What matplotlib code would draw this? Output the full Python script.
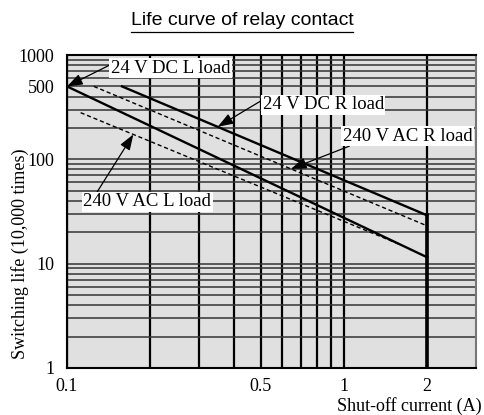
import numpy as np
import matplotlib
matplotlib.use("Agg")
import matplotlib.pyplot as plt
from matplotlib.ticker import FixedLocator, FixedFormatter
from matplotlib.lines import Line2D

# switching life (x10,000 operations) against shut-off current (A)
dc_l_current = [0.1, 2.0]
dc_l_life = [500, 11.5]
dc_r_current = [0.158, 2.0]
dc_r_life = [500, 29]
ac_r_current = [0.125, 2.0]
ac_r_life = [500, 23]
ac_l_current = [0.112, 1.6]
ac_l_life = [280, 15.2]

x_major = [0.1, 0.5, 1, 2]
x_minor = [0.2, 0.3, 0.4, 0.6, 0.7, 0.8, 0.9]
y_major = [1, 10, 100, 500, 1000]
y_minor = [2, 3, 4, 5, 6, 7, 8, 9, 20, 30, 40, 50, 60, 70, 80, 90,
           200, 300, 400, 600, 700, 800, 900]

serif = "Liberation Serif"


def life_at(xs, ys, x):
    """log-log interpolation along a straight life line"""
    return 10 ** np.interp(np.log10(x), np.log10(xs), np.log10(ys))


fig = plt.figure(figsize=(4.84, 4.15), dpi=100)
ax = fig.add_axes([67 / 484, 1 - 368 / 415, 409 / 484, 313 / 415])
ax.set_facecolor("#e0e0e0")
ax.set_xscale("log")
ax.set_yscale("log")
ax.set_xlim(0.1, 3)
ax.set_ylim(1, 1000)

ax.xaxis.set_major_locator(FixedLocator(x_major))
ax.xaxis.set_major_formatter(FixedFormatter([f"{v:g}" for v in x_major]))
ax.xaxis.set_minor_locator(FixedLocator(x_minor))
ax.xaxis.set_minor_formatter(FixedFormatter([]))
ax.yaxis.set_major_locator(FixedLocator(y_major))
ax.yaxis.set_major_formatter(FixedFormatter([f"{v:g}" for v in y_major]))
ax.yaxis.set_minor_locator(FixedLocator(y_minor))
ax.yaxis.set_minor_formatter(FixedFormatter([]))
ax.tick_params(which="both", length=0)
ax.tick_params(axis="x", pad=7, labelsize=13)
ax.tick_params(axis="y", pad=9, labelsize=13)
for lab in ax.get_xticklabels() + ax.get_yticklabels():
    lab.set_fontfamily(serif)

ax.set_axisbelow(True)
ax.grid(True, which="both", axis="x", color="black", lw=1.6)
ax.grid(True, which="both", axis="y", color="#333333", lw=1.1)
for side in ["left", "bottom", "top"]:
    ax.spines[side].set_color("black")
    ax.spines[side].set_linewidth(1.5)
ax.spines["right"].set_color("#777777")
ax.spines["right"].set_linewidth(1.5)

ax.plot(dc_l_current, dc_l_life, color="black", lw=1.7)
ax.plot(dc_r_current, dc_r_life, color="black", lw=1.7)
ax.plot(ac_r_current, ac_r_life, color="black", lw=1.0, ls=(0, (3, 2)))
ax.plot(ac_l_current, ac_l_life, color="black", lw=1.0, ls=(0, (3, 2)))
# cut-off at the rated current
ax.plot([dc_r_current[-1], dc_r_current[-1]], [1, dc_r_life[-1]], color="black", lw=2.6)

box = dict(boxstyle="square,pad=0.08", fc="white", ec="none")


def label(text, tip_x, xs, ys, text_xy, relpos):
    ax.annotate(text, xy=(tip_x, life_at(xs, ys, tip_x)), xytext=text_xy,
                fontsize=13.5, family=serif, ha="center", va="center",
                bbox=box, zorder=5,
                arrowprops=dict(arrowstyle="-|>,head_length=0.7,head_width=0.25",
                                color="black", lw=0.9, relpos=relpos,
                                shrinkA=0, shrinkB=0))


label("24 V DC L load", 0.1, dc_l_current, dc_l_life, (0.236, 750), (0.0, 0.7))
label("24 V DC R load", 0.35, dc_r_current, dc_r_life, (0.842, 332), (0.0, 0.8))
label("240 V AC R load", 0.644, ac_r_current, ac_r_life, (1.70, 167), (0.08, 0.0))
label("240 V AC L load", 0.1736, ac_l_current, ac_l_life, (0.195, 39), (0.1, 1.0))

fig.text(482 / 484, 1 - 406 / 415, "Shut-off current (A)", family=serif,
         fontsize=13, ha="right", va="center")
fig.text(20 / 484, 1 - 254 / 415, "Switching life (10,000 times)", family=serif,
         fontsize=13, rotation=90, ha="center", va="center")

title = fig.text(0.5, 1 - 25 / 415, "Life curve of relay contact",
                 family="Liberation Sans", fontsize=14, ha="center", va="baseline")
renderer = fig.canvas.get_renderer()
tb = title.get_window_extent(renderer).transformed(fig.transFigure.inverted())
uy = 1 - 32 / 415
fig.add_artist(Line2D([tb.x0, tb.x1], [uy, uy], color="black", lw=0.9,
                      transform=fig.transFigure))

fig.savefig("out.png", dpi=100)
